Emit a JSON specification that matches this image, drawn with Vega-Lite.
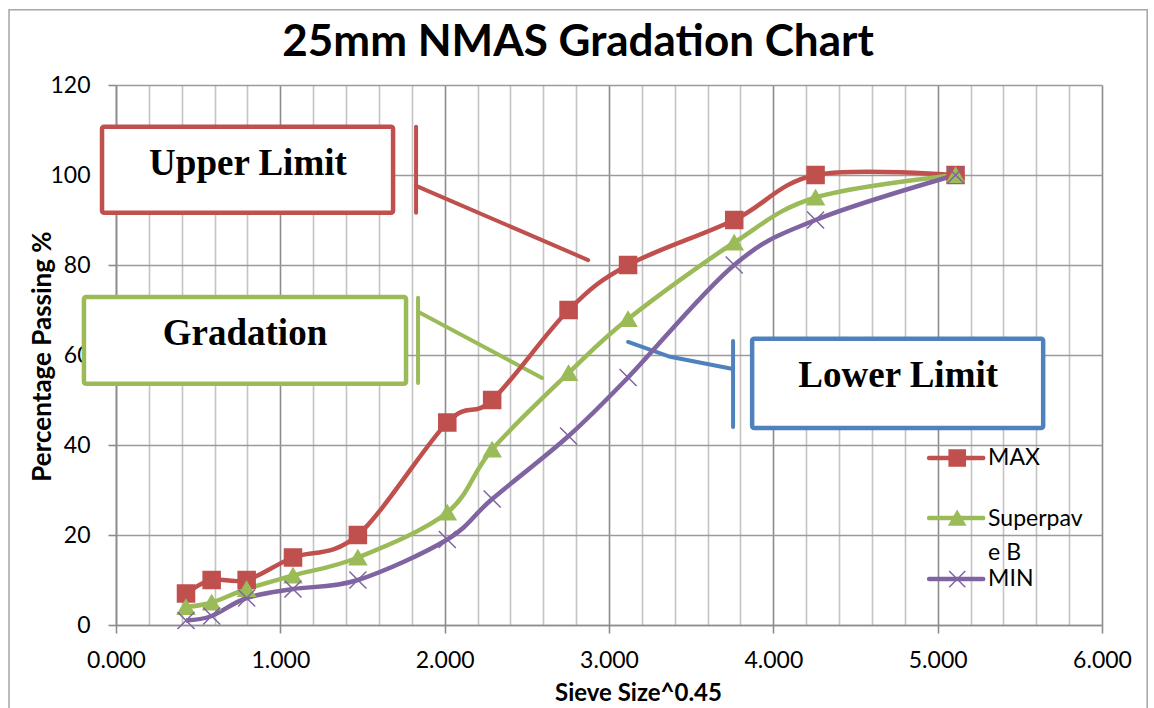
{
  "$schema": "https://vega.github.io/schema/vega-lite/v6.json",
  "width": 986,
  "height": 540,
  "autosize": {"type": "none"},
  "padding": {"left": 116, "top": 85, "right": 52, "bottom": 83},
  "background": "white",
  "config": {"view": {"stroke": null}, "font": "Lato"},
  "title": {"text": "25mm NMAS Gradation Chart", "font": "Lato", "fontSize": 44, "fontWeight": "bold", "color": "#000000", "anchor": "middle", "baseline": "alphabetic", "offset": -91, "dx": -31},
  "datasets": {
    "series": [
      {"series": "MAX", "x": 0.426, "y": 7},
      {"series": "MAX", "x": 0.582, "y": 10},
      {"series": "MAX", "x": 0.795, "y": 10},
      {"series": "MAX", "x": 1.077, "y": 15},
      {"series": "MAX", "x": 1.472, "y": 20},
      {"series": "MAX", "x": 2.016, "y": 45},
      {"series": "MAX", "x": 2.289, "y": 50},
      {"series": "MAX", "x": 2.754, "y": 70},
      {"series": "MAX", "x": 3.116, "y": 80},
      {"series": "MAX", "x": 3.762, "y": 90},
      {"series": "MAX", "x": 4.257, "y": 100},
      {"series": "MAX", "x": 5.109, "y": 100},
      {"series": "Superpave B", "x": 0.426, "y": 4},
      {"series": "Superpave B", "x": 0.582, "y": 5},
      {"series": "Superpave B", "x": 0.795, "y": 8},
      {"series": "Superpave B", "x": 1.077, "y": 11},
      {"series": "Superpave B", "x": 1.472, "y": 15},
      {"series": "Superpave B", "x": 2.016, "y": 25},
      {"series": "Superpave B", "x": 2.289, "y": 39},
      {"series": "Superpave B", "x": 2.754, "y": 56},
      {"series": "Superpave B", "x": 3.116, "y": 68},
      {"series": "Superpave B", "x": 3.762, "y": 85},
      {"series": "Superpave B", "x": 4.257, "y": 95},
      {"series": "Superpave B", "x": 5.109, "y": 100},
      {"series": "MIN", "x": 0.426, "y": 1},
      {"series": "MIN", "x": 0.582, "y": 2},
      {"series": "MIN", "x": 0.795, "y": 6},
      {"series": "MIN", "x": 1.077, "y": 8},
      {"series": "MIN", "x": 1.472, "y": 10},
      {"series": "MIN", "x": 2.016, "y": 19},
      {"series": "MIN", "x": 2.289, "y": 28},
      {"series": "MIN", "x": 2.754, "y": 42},
      {"series": "MIN", "x": 3.116, "y": 55},
      {"series": "MIN", "x": 3.762, "y": 80},
      {"series": "MIN", "x": 4.257, "y": 90},
      {"series": "MIN", "x": 5.109, "y": 100}
    ],
    "frame": [{"x": -0.651, "x2": 6.275, "y": 136.7, "y2": -21.1}],
    "boxes": [
      {"series": "MAX", "x": -0.085, "x2": 1.686, "y": 110.7, "y2": 91.6},
      {"series": "Superpave B", "x": -0.195, "x2": 1.765, "y": 72.9, "y2": 53.6},
      {"series": "MIN", "x": 3.871, "x2": 5.642, "y": 63.6, "y2": 43.8}
    ],
    "boxlabels": [
      {"label": "Upper Limit", "x": 0.803, "y": 100},
      {"label": "Gradation", "x": 0.785, "y": 62.2},
      {"label": "Lower Limit", "x": 4.76, "y": 52.9}
    ],
    "callouts": [
      {"seg": "ub", "series": "MAX", "o": 0, "x": 1.826, "y": 110.7},
      {"seg": "ub", "series": "MAX", "o": 1, "x": 1.826, "y": 91.6},
      {"seg": "ul", "series": "MAX", "o": 0, "x": 1.826, "y": 97.6},
      {"seg": "ul", "series": "MAX", "o": 1, "x": 2.873, "y": 81.1},
      {"seg": "gb", "series": "Superpave B", "o": 0, "x": 1.838, "y": 72.7},
      {"seg": "gb", "series": "Superpave B", "o": 1, "x": 1.838, "y": 53.8},
      {"seg": "gl", "series": "Superpave B", "o": 0, "x": 1.838, "y": 69.6},
      {"seg": "gl", "series": "Superpave B", "o": 1, "x": 2.593, "y": 54.9},
      {"seg": "lb", "series": "MIN", "o": 0, "x": 3.755, "y": 63.1},
      {"seg": "lb", "series": "MIN", "o": 1, "x": 3.755, "y": 44.0},
      {"seg": "ll", "series": "MIN", "o": 0, "x": 3.755, "y": 56.9},
      {"seg": "ll", "series": "MIN", "o": 1, "x": 3.372, "y": 59.6},
      {"seg": "ll", "series": "MIN", "o": 2, "x": 3.116, "y": 62.9}
    ],
    "legendlines": [
      {"seg": "a", "series": "MAX", "o": 0, "x": 4.948, "y": 37.1},
      {"seg": "a", "series": "MAX", "o": 1, "x": 5.277, "y": 37.1},
      {"seg": "b", "series": "Superpave B", "o": 0, "x": 4.948, "y": 23.8},
      {"seg": "b", "series": "Superpave B", "o": 1, "x": 5.277, "y": 23.8},
      {"seg": "c", "series": "MIN", "o": 0, "x": 4.948, "y": 10.2},
      {"seg": "c", "series": "MIN", "o": 1, "x": 5.277, "y": 10.2}
    ],
    "legendpoints": [
      {"series": "MAX", "x": 5.119, "y": 37.1},
      {"series": "Superpave B", "x": 5.119, "y": 23.8},
      {"series": "MIN", "x": 5.119, "y": 10.2}
    ],
    "legendtext": [
      {"label": "MAX", "x": 5.307, "y": 37.1},
      {"label": "Superpav", "x": 5.307, "y": 23.6},
      {"label": "e B", "x": 5.307, "y": 16.1},
      {"label": "MIN", "x": 5.307, "y": 10.2}
    ]
  },
  "layer": [
    {
      "data": {"name": "frame"},
      "mark": {"type": "rect", "fill": null, "fillOpacity": 0, "stroke": "#a6a6a6", "strokeWidth": 1.5},
      "encoding": {
        "x": {"field": "x", "type": "quantitative", "scale": {"domain": [0, 6], "nice": false, "zero": false},
          "axis": {
            "orient": "bottom", "zindex": 0,
            "values": [0.2, 0.4, 0.6, 0.8, 1.2, 1.4, 1.6, 1.8, 2.2, 2.4, 2.6, 2.8, 3.2, 3.4, 3.6, 3.8, 4.2, 4.4, 4.6, 4.8, 5.2, 5.4, 5.6, 5.8],
            "labels": false, "ticks": false, "domain": false, "title": null,
            "grid": true, "gridColor": "#c4c4c4", "gridWidth": 1.6
          }},
        "x2": {"field": "x2"},
        "y": {"field": "y", "type": "quantitative", "scale": {"domain": [0, 120], "nice": false, "zero": false},
          "axis": {
            "values": [0, 20, 40, 60, 80, 100, 120],
            "labelFont": "Lato", "labelFontSize": 23, "labelColor": "#000000", "labelPadding": 18,
            "grid": true, "gridColor": "#9a9a9a", "gridWidth": 1.6,
            "tickColor": "#8c8c8c", "tickSize": 8, "tickWidth": 1.6,
            "domainColor": "#8c8c8c", "domainWidth": 1.6,
            "title": "Percentage Passing %", "titleFont": "Lato", "titleFontSize": 26, "titleFontWeight": "bold", "titleColor": "#000000",
            "titleX": -74, "titleY": 271, "titleAngle": -90, "titleAlign": "center", "titleBaseline": "middle", "titleAnchor": null
          }},
        "y2": {"field": "y2"}
      }
    },
    {
      "data": {"name": "callouts"},
      "mark": {"type": "line", "strokeWidth": 4, "strokeCap": "round"},
      "encoding": {
        "x": {"field": "x", "type": "quantitative",
          "axis": {
            "orient": "bottom", "zindex": 0,
            "values": [0, 1, 2, 3, 4, 5, 6], "format": ".3f",
            "labelFont": "Lato", "labelFontSize": 23, "labelColor": "#000000", "labelPadding": 16, "labelFlush": false, "labelOverlap": false,
            "grid": true, "gridColor": "#8c8c8c", "gridWidth": 1.6,
            "tickColor": "#8c8c8c", "tickSize": 8, "tickWidth": 1.6,
            "domainColor": "#8c8c8c", "domainWidth": 1.6,
            "title": "Sieve Size^0.45", "titleFont": "Lato", "titleFontSize": 24, "titleFontWeight": "bold", "titleColor": "#000000",
            "titleX": 522, "titleY": 68, "titleAnchor": null, "titleAlign": "center", "titleBaseline": "middle"
          }},
        "y": {"field": "y", "type": "quantitative"},
        "detail": {"field": "seg"},
        "order": {"field": "o"},
        "color": {"field": "series", "type": "nominal", "legend": null,
          "scale": {"domain": ["MAX", "Superpave B", "MIN"], "range": ["#C0504D", "#9BBB59", "#4F81BD"]}}
      }
    },
    {
      "data": {"name": "boxes"},
      "mark": {"type": "rect", "fill": "white", "strokeWidth": 4.5, "cornerRadius": 2},
      "encoding": {
        "x": {"field": "x", "type": "quantitative", "axis": null},
        "x2": {"field": "x2"},
        "y": {"field": "y", "type": "quantitative"},
        "y2": {"field": "y2"},
        "stroke": {"field": "series", "type": "nominal", "legend": null,
          "scale": {"domain": ["MAX", "Superpave B", "MIN"], "range": ["#C0504D", "#9BBB59", "#4F81BD"]}}
      }
    },
    {
      "data": {"name": "boxlabels"},
      "mark": {"type": "text", "font": "Liberation Serif", "fontWeight": "bold", "fontSize": 37, "color": "#000000", "align": "center", "baseline": "alphabetic"},
      "encoding": {
        "x": {"field": "x", "type": "quantitative", "axis": null},
        "y": {"field": "y", "type": "quantitative"},
        "text": {"field": "label"}
      }
    },
    {
      "data": {"name": "series"},
      "mark": {"type": "line", "interpolate": "cardinal", "strokeWidth": 4.5, "strokeJoin": "round"},
      "encoding": {
        "x": {"field": "x", "type": "quantitative", "axis": null},
        "y": {"field": "y", "type": "quantitative"},
        "detail": {"field": "series"},
        "stroke": {"field": "series", "type": "nominal", "legend": null,
          "scale": {"domain": ["MAX", "Superpave B", "MIN"], "range": ["#C0504D", "#9BBB59", "#8064A2"]}}
      }
    },
    {
      "data": {"name": "legendlines"},
      "mark": {"type": "line", "strokeWidth": 4.5, "strokeCap": "round"},
      "encoding": {
        "x": {"field": "x", "type": "quantitative", "axis": null},
        "y": {"field": "y", "type": "quantitative"},
        "detail": {"field": "seg"},
        "order": {"field": "o"},
        "stroke": {"field": "series", "type": "nominal", "legend": null,
          "scale": {"domain": ["MAX", "Superpave B", "MIN"], "range": ["#C0504D", "#9BBB59", "#8064A2"]}}
      }
    },
    {
      "data": {"name": "series"},
      "mark": {"type": "point", "filled": true, "size": 290, "opacity": 1, "strokeWidth": 1.5},
      "encoding": {
        "x": {"field": "x", "type": "quantitative", "axis": null},
        "y": {"field": "y", "type": "quantitative"},
        "shape": {"field": "series", "type": "nominal", "legend": null,
          "scale": {"domain": ["MAX", "Superpave B", "MIN"], "range": ["square", "triangle-up", "M-1,-1L1,1M-1,1L1,-1"]}},
        "fill": {"field": "series", "type": "nominal", "legend": null,
          "scale": {"domain": ["MAX", "Superpave B", "MIN"], "range": ["#C0504D", "#9BBB59", "#8064A2"]}},
        "stroke": {"field": "series", "type": "nominal", "legend": null,
          "scale": {"domain": ["MAX", "Superpave B", "MIN"], "range": ["#C0504D", "#9BBB59", "#8064A2"]}}
      }
    },
    {
      "data": {"name": "legendpoints"},
      "mark": {"type": "point", "filled": true, "size": 260, "opacity": 1, "strokeWidth": 1.5},
      "encoding": {
        "x": {"field": "x", "type": "quantitative", "axis": null},
        "y": {"field": "y", "type": "quantitative"},
        "shape": {"field": "series", "type": "nominal", "legend": null,
          "scale": {"domain": ["MAX", "Superpave B", "MIN"], "range": ["square", "triangle-up", "M-1,-1L1,1M-1,1L1,-1"]}},
        "fill": {"field": "series", "type": "nominal", "legend": null,
          "scale": {"domain": ["MAX", "Superpave B", "MIN"], "range": ["#C0504D", "#9BBB59", "#8064A2"]}},
        "stroke": {"field": "series", "type": "nominal", "legend": null,
          "scale": {"domain": ["MAX", "Superpave B", "MIN"], "range": ["#C0504D", "#9BBB59", "#8064A2"]}}
      }
    },
    {
      "data": {"name": "legendtext"},
      "mark": {"type": "text", "font": "Lato", "fontSize": 23, "color": "#000000", "align": "left", "baseline": "middle"},
      "encoding": {
        "x": {"field": "x", "type": "quantitative", "axis": null},
        "y": {"field": "y", "type": "quantitative"},
        "text": {"field": "label"}
      }
    }
  ],
  "resolve": {"scale": {"stroke": "independent"}, "axis": {"x": "independent"}}
}
